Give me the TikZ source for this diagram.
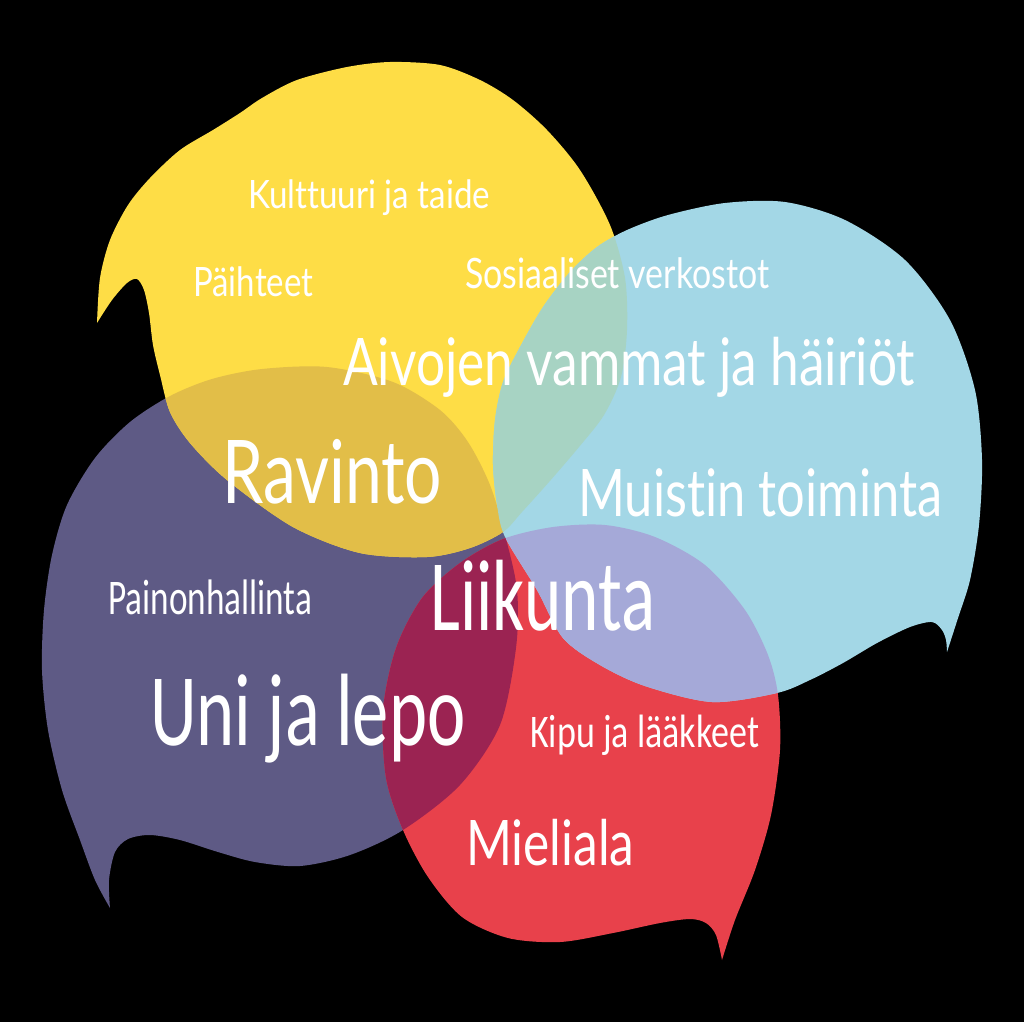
\documentclass[tikz,border=0pt]{standalone}
\usepackage{fontspec}
\usepackage{graphicx}
\setmainfont{Carlito}
\newfontfamily\dinfont[Ligatures=NoCommon]{Lato}
\definecolor{bubyellow}{HTML}{FEDD46}
\definecolor{bubpurple}{HTML}{5E5A85}
\definecolor{bubblue}{HTML}{A3D7E6}
\definecolor{bubred}{HTML}{E8414B}
\definecolor{ovgold}{HTML}{E2BE48}
\definecolor{ovgreen}{HTML}{A7D3C3}
\definecolor{ovlavender}{HTML}{A5A9D8}
\definecolor{ovcrimson}{HTML}{9B2352}
% label squeezed to a given width and cap height
\newcommand\fitlbl[4]{\resizebox{#1pt}{#2pt}{#3\vphantom{H}\smash{#4}}}
% the four bubbles
\def\bubYellow{plot[smooth] coordinates {(97,323) (100,278) (110,240) (128,205) (150,178) (180,150) (213,130) (240,113) (262,98) (297,80) (347,67) (390,62) (440,65) (480,80) (513,100) (547,130) (580,170) (610,225) (625,278) (627,330) (621,377) (604,415) (579,447) (549,482) (522,512) (503,532) (470,548) (427,557) (360,553) (293,527) (227,480) (190,443) (170,412) (160,375) (153,345) (149,313) (144,290) (137,279) (127,283) (112,300) (97,323)} -- cycle}
\def\bubPurple{plot[smooth] coordinates {(110,908) (95,880) (80,840) (62,790) (48,730) (42,670) (44,610) (52,555) (67,505) (95,458) (130,422) (170,396) (212,379) (262,369) (327,367) (393,382) (440,410) (468,442) (490,485) (505,535) (517,590) (516,648) (500,725) (460,785) (403,830) (350,855) (300,866) (255,862) (218,852) (180,840) (150,835) (128,839) (115,852) (109,880) (110,908)} -- cycle}
\def\bubRed{plot[smooth] coordinates {(722,960) (735,920) (755,870) (771,815) (780,750) (778,695) (768,655) (745,610) (705,565) (655,537) (605,525) (553,527) (503,539) (460,563) (422,598) (396,648) (383,710) (386,778) (403,830) (428,877) (462,917) (508,938) (560,942) (613,933) (660,923) (690,919) (706,923) (716,935) (722,960)} -- cycle}
\def\bubBlue{plot[smooth] coordinates {(947,652) (958,618) (970,580) (979,525) (982,460) (975,390) (950,320) (905,260) (845,220) (785,202) (725,203) (668,215) (627,230) (597,247) (570,272) (543,307) (520,347) (503,382) (495,420) (493,465) (497,505) (505,537) (537,590) (563,638) (600,665) (645,686) (712,702) (777,693) (810,680) (843,663) (877,643) (910,627) (932,622) (942,630) (946,640) (947,652)} -- cycle}
\begin{document}
\begin{tikzpicture}[x=1pt, y=-1pt, lbl/.style={anchor=base west, inner sep=0pt, text=white}]
    \fill[black] (0,0) rectangle (1024,1022);
    \useasboundingbox (0,0) rectangle (1024,1022);
    % bubbles
    \fill[bubpurple] \bubPurple;
    \fill[bubyellow] \bubYellow;
    \fill[bubred] \bubRed;
    \fill[bubblue] \bubBlue;
    % overlaps
    \begin{scope}
        \clip \bubYellow;
        \fill[ovgold] \bubPurple;
        \fill[ovgreen] \bubBlue;
    \end{scope}
    \begin{scope}
        \clip \bubRed;
        \fill[ovcrimson] \bubPurple;
        \fill[ovlavender] \bubBlue;
    \end{scope}
    % labels
    \node[lbl] (kulttuuri) at (248,208) {\fitlbl{242}{28}{\dinfont}{Kulttuuri ja taide}};
    \node[lbl] (paihteet) at (193,296) {\fitlbl{120}{29}{\dinfont}{Päihteet}};
    \node[lbl] (sosiaaliset) at (465,288) {\fitlbl{304}{30}{\dinfont}{Sosiaaliset verkostot}};
    \node[lbl] (aivojen) at (343,385) {\fitlbl{572}{47}{\dinfont}{Aivojen vammat ja häiriöt}};
    \node[lbl] (ravinto) at (222,503) {\fitlbl{220}{63}{\dinfont}{Ravinto}};
    \node[lbl] (muistin) at (578,516) {\fitlbl{364}{47}{\dinfont}{Muistin toiminta}};
    \node[lbl] (painon) at (108,614) {\fitlbl{204}{32}{}{Painonhallinta}};
    \node[lbl] (liikunta) at (430,630) {\fitlbl{225}{65}{}{Liikunta}};
    \node[lbl] (uni) at (150,745) {\fitlbl{315}{66}{}{Uni ja lepo}};
    \node[lbl] (kipu) at (530,747) {\fitlbl{229}{30}{}{Kipu ja lääkkeet}};
    \node[lbl] (mieliala) at (466,865) {\fitlbl{168}{45}{\dinfont}{Mieliala}};
\end{tikzpicture}
\end{document}
